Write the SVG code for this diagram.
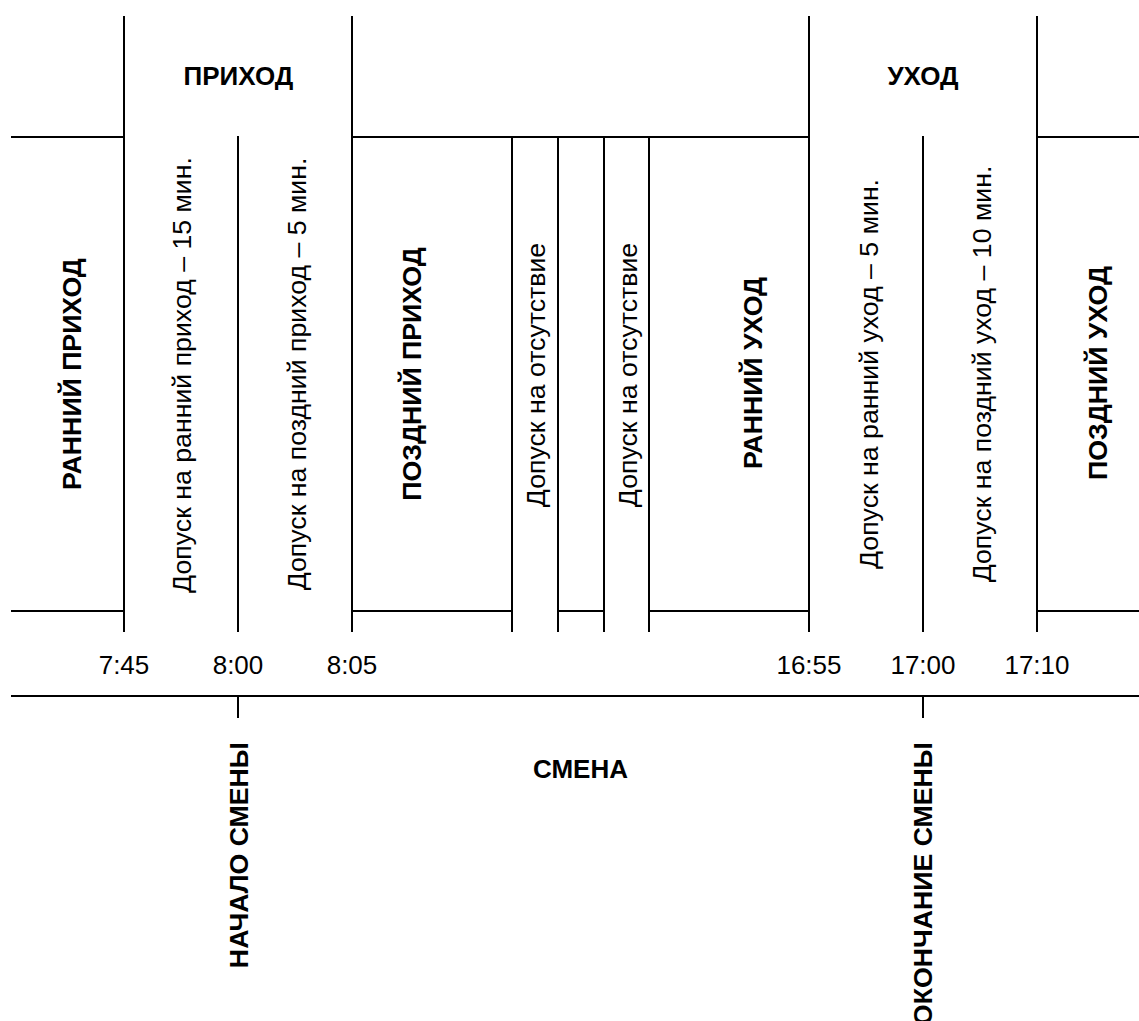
<svg xmlns="http://www.w3.org/2000/svg" width="1139" height="1021" viewBox="0 0 1139 1021">
<style>
.ln{stroke:#000;stroke-width:2;fill:none}
text{font-family:"Liberation Sans",Arial,sans-serif;font-size:26px;fill:#000}
.v{font-size:26.7px}
.b{font-weight:bold}
.m{text-anchor:middle}
.e{text-anchor:end}
</style>
<rect width="1139" height="1021" fill="#fff"/>
<g id="connectors">
<line class="ln" x1="124" y1="16" x2="124" y2="632"/>
<line class="ln" x1="352" y1="16" x2="352" y2="632"/>
<line class="ln" x1="809" y1="16" x2="809" y2="632"/>
<line class="ln" x1="1037" y1="16" x2="1037" y2="632"/>
<line class="ln" x1="238" y1="136" x2="238" y2="632"/>
<line class="ln" x1="923" y1="136" x2="923" y2="632"/>
<line class="ln" x1="512" y1="137" x2="512" y2="632"/>
<line class="ln" x1="558" y1="137" x2="558" y2="632"/>
<line class="ln" x1="604" y1="137" x2="604" y2="632"/>
<line class="ln" x1="649" y1="137" x2="649" y2="632"/>
<line class="ln" x1="11" y1="137" x2="124" y2="137"/>
<line class="ln" x1="352" y1="137" x2="809" y2="137"/>
<line class="ln" x1="1037" y1="137" x2="1139" y2="137"/>
<line class="ln" x1="11" y1="611" x2="124" y2="611"/>
<line class="ln" x1="352" y1="611" x2="512" y2="611"/>
<line class="ln" x1="558" y1="611" x2="604" y2="611"/>
<line class="ln" x1="649" y1="611" x2="809" y2="611"/>
<line class="ln" x1="1037" y1="611" x2="1139" y2="611"/>
<line class="ln" x1="11" y1="696" x2="1139" y2="696"/>
<line class="ln" x1="238" y1="696" x2="238" y2="718"/>
<line class="ln" x1="923" y1="696" x2="923" y2="718"/>
</g>
<g id="prihod"><text class="b m" x="238.5" y="85">ПРИХОД</text></g>
<g id="uhod"><text class="b m" x="923" y="85">УХОД</text></g>
<g id="ranniy-prihod"><text class="v b m" transform="translate(81,374) rotate(-90)">РАННИЙ ПРИХОД</text></g>
<g id="dopusk-ranniy-prihod"><text class="v m" transform="translate(191,375) rotate(-90)">Допуск на ранний приход – 15 мин.</text></g>
<g id="dopusk-pozdniy-prihod"><text class="v m" transform="translate(306,374) rotate(-90)">Допуск на поздний приход – 5 мин.</text></g>
<g id="pozdniy-prihod"><text class="v b m" transform="translate(421,374) rotate(-90)">ПОЗДНИЙ ПРИХОД</text></g>
<g id="otsutstvie-1"><text class="v m" transform="translate(545,375) rotate(-90)">Допуск на отсутствие</text></g>
<g id="otsutstvie-2"><text class="v m" transform="translate(637,375) rotate(-90)">Допуск на отсутствие</text></g>
<g id="ranniy-uhod"><text class="v b m" transform="translate(762,373) rotate(-90)">РАННИЙ УХОД</text></g>
<g id="dopusk-ranniy-uhod"><text class="v m" transform="translate(878,374) rotate(-90)">Допуск на ранний уход – 5 мин.</text></g>
<g id="dopusk-pozdniy-uhod"><text class="v m" transform="translate(991,374) rotate(-90)">Допуск на поздний уход – 10 мин.</text></g>
<g id="pozdniy-uhod"><text class="v b m" transform="translate(1107,373) rotate(-90)">ПОЗДНИЙ УХОД</text></g>
<g id="times">
<text class="m" x="124" y="674">7:45</text>
<text class="m" x="238" y="674">8:00</text>
<text class="m" x="352" y="674">8:05</text>
<text class="m" x="809" y="674">16:55</text>
<text class="m" x="923" y="674">17:00</text>
<text class="m" x="1037" y="674">17:10</text>
</g>
<g id="smena"><text class="b m" x="580.5" y="778">СМЕНА</text></g>
<g id="nachalo-smeny"><text class="v b e" transform="translate(248,742) rotate(-90)">НАЧАЛО СМЕНЫ</text></g>
<g id="okonchanie-smeny"><text class="v b e" transform="translate(932,742) rotate(-90)">ОКОНЧАНИЕ СМЕНЫ</text></g>
</svg>
